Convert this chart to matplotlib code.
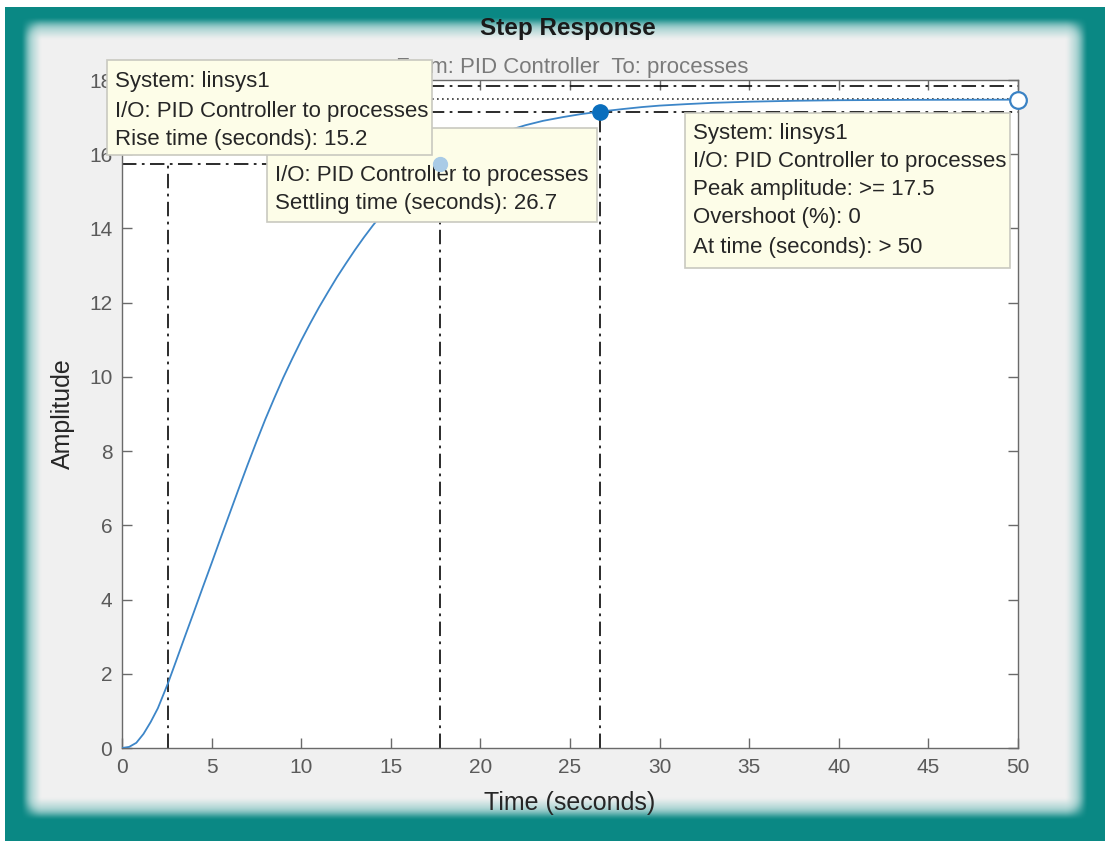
import numpy as np
import matplotlib
matplotlib.use("Agg")
import matplotlib.pyplot as plt
from matplotlib.patches import Rectangle

plt.rcParams['font.family'] = ['Liberation Sans', 'DejaVu Sans']

# ---- data ----
time_s = [0.0, 0.4, 0.8, 1.2, 1.6, 2.0, 2.57, 3.0, 3.5, 4.0, 4.5, 5.0, 5.5, 6.0, 6.5,
          7.0, 7.5, 8.0, 8.5, 9.0, 9.5, 10.0, 10.5, 11.0, 11.5, 12.0, 12.5, 13.0,
          13.5, 14.0, 14.5, 15.0, 15.5, 16.0, 16.5, 17.0, 17.75, 18.5, 19.5, 20.5,
          21.5, 22.5, 23.5, 24.6, 25.6, 26.7, 28.0, 29.0, 30.0, 31.5, 33.0, 35.0,
          37.5, 40.0, 44.0, 50.0]
amplitude = [0.0, 0.03, 0.14, 0.38, 0.7, 1.07, 1.75, 2.32, 2.99, 3.65, 4.32, 4.98,
             5.65, 6.31, 6.97, 7.62, 8.25, 8.86, 9.43, 9.98, 10.49, 10.98, 11.44, 11.88,
             12.29, 12.69, 13.06, 13.42, 13.76, 14.08, 14.38, 14.66, 14.91, 15.13, 15.33,
             15.5, 15.75, 15.97, 16.23, 16.45, 16.63, 16.78, 16.9, 17.0, 17.08, 17.15,
             17.22, 17.27, 17.31, 17.35, 17.385, 17.415, 17.44, 17.455, 17.465, 17.47]

final_value = 17.5
rise_start, rise_end = 2.57, 17.75
rise_level = 15.75
settle_time = 26.7
settle_band = [17.15, 17.85]
peak_time, peak_value = 50.0, 17.47

x_ticks = [0, 5, 10, 15, 20, 25, 30, 35, 40, 45, 50]
y_ticks = [0, 2, 4, 6, 8, 10, 12, 14, 16, 18]

tip_rise = ["System: linsys1", "I/O: PID Controller to processes", "Rise time (seconds): 15.2"]
tip_settle = ["I/O: PID Controller to processes", "Settling time (seconds): 26.7"]
tip_peak = ["System: linsys1", "I/O: PID Controller to processes", "Peak amplitude: >= 17.5",
            "Overshoot (%): 0", "At time (seconds): > 50"]

W, H = 1105, 841
fig = plt.figure(figsize=(W / 100, H / 100), dpi=100)

# ---- teal frame with soft inner panel ----
def ramp(v, a, b):
    t = np.clip((v - a) / (b - a), 0, 1)
    return t * t * (3 - 2 * t)

xs = np.arange(W, dtype=float)
ys = np.arange(H, dtype=float)
fx = ramp(xs, 20, 42) * ramp(xs, 1088, 1064)
fy = ramp(ys, 16, 40) * ramp(ys, 820, 796)
mask = fy[:, None] * fx[None, :]
teal = np.array([10, 136, 132]) / 255
panel = np.array([240, 240, 240]) / 255
img = teal * (1 - mask[..., None]) + panel * mask[..., None]
glow = np.clip(4 * mask * (1 - mask), 0, 1)[..., None]
img = img + glow * 0.35 * (1 - img)
img[:7, :, :] = 1.0
img[:, :5, :] = 1.0
fig.figimage(np.clip(img, 0, 1), xo=0, yo=0, origin='upper', zorder=-10)

# ---- axes ----
L, R, T, B = 122, 1018, 80, 748
ax = fig.add_axes([L / W, 1 - B / H, (R - L) / W, (B - T) / H], zorder=1)
ax.set_facecolor('white')
ax.set_xlim(0, 50)
ax.set_ylim(0, 18)
ax.set_xticks(x_ticks)
ax.set_yticks(y_ticks)
ax.tick_params(direction='in', length=7, width=1, color='#6a6a6a', labelcolor='#5a5a5a',
               labelsize=15, top=True, right=True, pad=7)
for s in ax.spines.values():
    s.set_color('#6a6a6a')
    s.set_linewidth(1)
ax.set_xlabel('Time (seconds)', fontsize=18, color='#262626')
ax.set_ylabel('Amplitude', fontsize=18, color='#262626')
ax.xaxis.set_label_coords(0.5, -0.064)
ax.yaxis.set_label_coords(-0.053, 0.5)

dd = (0, (8, 3, 1.5, 3))
kw = dict(color='#1a1a1a', lw=1.3, linestyle=dd, zorder=2)
# rise time lines
ax.plot([0, rise_end], [rise_level, rise_level], **kw)
ax.plot([rise_start, rise_start], [0, rise_level], **kw)
ax.plot([rise_end, rise_end], [0, rise_level], **kw)
# settling lines
ax.plot([settle_time, settle_time], [0, settle_band[0]], **kw)
for lvl in settle_band:
    ax.plot([0, 50], [lvl, lvl], **kw)
ax.plot([0, 50], [final_value, final_value], color='#333333', lw=1.2, linestyle=(0, (1, 2)), zorder=2)

# response
ax.plot(time_s, amplitude, color='#3d86c8', lw=1.3, zorder=3)

ax.plot([settle_time], [settle_band[0]], 'o', ms=11, color='#0a6ebd', zorder=4)
ax.plot([peak_time], [peak_value], 'o', ms=12, mfc='white', mec='#3a82c4', mew=1.6,
        zorder=4, clip_on=False)

# ---- title/subtitle (inside ax so tooltips cover them) ----
ft = fig.transFigure
ax.text(568 / W, 1 - 28 / H, 'Step Response', transform=ft, ha='center', va='center',
        fontsize=17.5, fontweight='bold', color='#1a1a1a', zorder=3, clip_on=False)
ax.text(572 / W, 1 - 68 / H, 'From: PID Controller  To: processes', transform=ft,
        ha='center', va='center', fontsize=16, color='#7a7a7a', zorder=3, clip_on=False)

# ---- data tips ----
def tip(x0, y0, x1, y1, lines, ytext, z):
    ax.add_patch(Rectangle((x0 / W, 1 - y1 / H), (x1 - x0) / W, (y1 - y0) / H,
                           transform=ft, facecolor='#fdfde8', edgecolor='#c9c9c0',
                           lw=1.2, zorder=z, clip_on=False))
    for ln, yy in zip(lines, ytext):
        ax.text((x0 + 8) / W, 1 - yy / H, ln, transform=ft, ha='left', va='center',
                fontsize=16, color='#262626', zorder=z + 0.1, clip_on=False)

tip(267, 128, 597, 222, tip_settle, [175, 203], 6)
tip(107, 60, 432, 155, tip_rise, [81, 111, 140], 7)
tip(685, 113, 1010, 268, tip_peak, [133, 161, 189, 218, 247], 6)

ax.plot([rise_end], [rise_level], 'o', ms=10, color='#a9cbe6', zorder=8, clip_on=False)

fig.savefig('out.png', dpi=100)
